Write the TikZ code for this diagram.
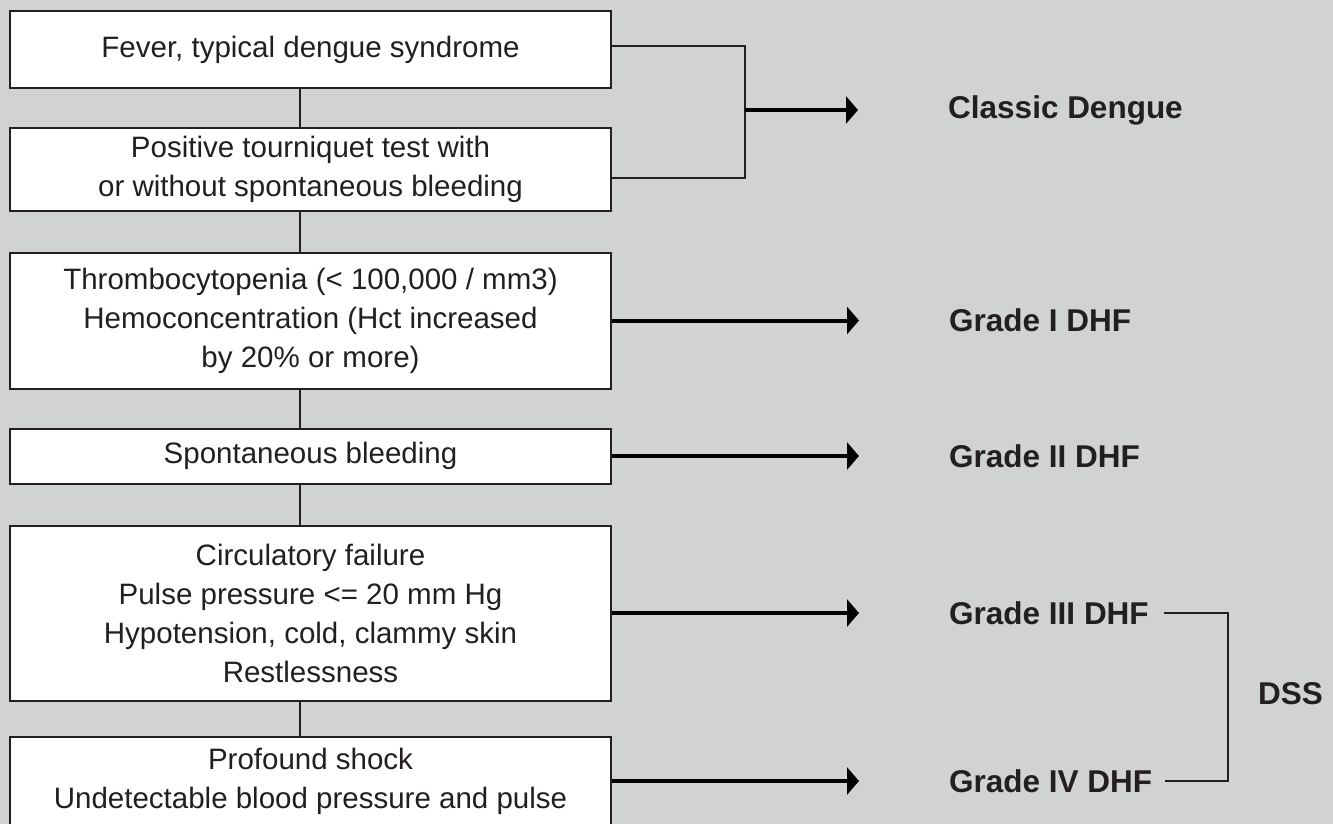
\documentclass[tikz,border=0pt]{standalone}
\usepackage{fontspec}
\setmainfont{Liberation Sans}
\usetikzlibrary{arrows.meta,positioning}
\definecolor{bggray}{HTML}{D1D2D4}
\definecolor{ink}{HTML}{231F20}

\begin{document}
\begin{tikzpicture}[x=1pt,y=-1pt,
  box/.style={draw=ink,line width=2pt,fill=white,minimum width=601pt,align=center,inner sep=0pt,
    text=ink,font=\fontsize{29.5}{39}\selectfont},
  grade/.style={anchor=west,inner sep=0pt,text=ink,font=\fontsize{31.5}{38}\selectfont\bfseries},
  link/.style={draw=ink,line width=2pt},
  arr/.style={draw=black,line width=4pt,-{Triangle[length=12pt,width=27pt]}}]
  \fill[bggray] (0,0) rectangle (1333,824);
  \useasboundingbox (0,0) rectangle (1333,824);
  % stages
  \node[box,minimum height=77pt] (b1) at (310.5,50) {Fever, typical dengue syndrome};
  \node[box,minimum height=82pt] (b2) at (310.5,169.5) {Positive tourniquet test with\\or without spontaneous bleeding};
  \node[box,minimum height=136pt] (b3) at (310.5,320.5) {Thrombocytopenia (< 100,000 / mm3)\\Hemoconcentration (Hct increased\\by 20\% or more)};
  \node[box,minimum height=55pt] (b4) at (310.5,456) {Spontaneous bleeding};
  \node[box,minimum height=175pt] (b5) at (310.5,613) {Circulatory failure\\Pulse pressure <= 20 mm Hg\\Hypotension, cold, clammy skin\\Restlessness};
  \node[box,minimum height=88pt] (b6) at (310.5,781) {Profound shock\\Undetectable blood pressure and pulse};
  \coordinate (spine) at (300,0);
  \foreach \a/\b in {b1/b2,b2/b3,b3/b4,b4/b5,b5/b6}
    \draw[link] (\a.south -| spine) -- (\b.north -| spine);
  % grades
  \node[grade] (gc) at (948,110) {Classic Dengue};
  \node[grade,right=337pt of b3] (g1) {Grade I DHF};
  \node[grade,right=337pt of b4] (g2) {Grade II DHF};
  \node[grade,right=337pt of b5] (g3) {Grade III DHF};
  \node[grade,right=337pt of b6] (g4) {Grade IV DHF};
  \node[grade] (dss) at (1258,694) {DSS};
  % brackets and arrows
  \draw[link] ([yshift=4pt]b1.east) -- ++(133,0) coordinate (brk) |- ([yshift=-8.5pt]b2.east);
  \draw[arr] (gc.west -| brk) -- ([xshift=-90pt]gc.west);
  \foreach \s/\g in {b3/g1,b4/g2,b5/g3,b6/g4}
    \draw[arr] (\s.east) -- ([xshift=-90pt]\g.west);
  \draw[link] ([xshift=15pt]g3.east) -- ++(64,0) |- ([xshift=13pt]g4.east);
\end{tikzpicture}
\end{document}
